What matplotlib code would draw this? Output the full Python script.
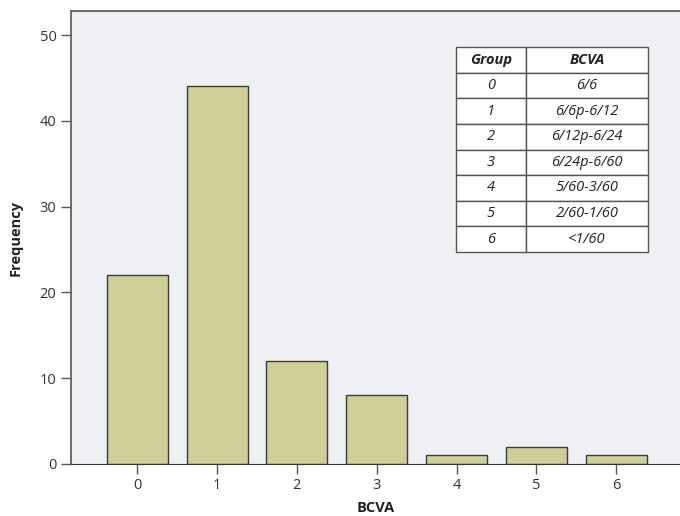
import matplotlib.pyplot as plt

groups = [0, 1, 2, 3, 4, 5, 6]
freq = [22, 44, 12, 8, 1, 2, 1]
bcva_labels = ['6/6', '6/6p-6/12', '6/12p-6/24', '6/24p-6/60',
               '5/60-3/60', '2/60-1/60', '<1/60']

plt.rcParams['font.family'] = ['Open Sans', 'DejaVu Sans']

fig = plt.figure(figsize=(6.8, 5.16), dpi=100)
ax = fig.add_axes([0.1044, 0.1008, 0.8956, 0.8779])
ax.set_facecolor('#eff0f3')

ax.bar(groups, freq, width=0.765, color='#d0cf98', edgecolor='#3a3a3a', linewidth=1.0)

ax.set_xlim(-0.83, 6.8)
ax.set_ylim(0, 52.8)
ax.set_xticks(groups)
ax.set_yticks([0, 10, 20, 30, 40, 50])
ax.tick_params(axis='both', direction='out', length=7, width=1, color='#555555',
               labelsize=10.5, labelcolor='#333333')
ax.tick_params(axis='x', pad=3)

for s in ['left', 'top']:
    ax.spines[s].set_color('#555555')
    ax.spines[s].set_linewidth(1.2)
ax.spines['right'].set_visible(False)
ax.spines['bottom'].set_color('#333333')

ax.set_xlabel('BCVA', fontsize=10.5, fontweight='bold', color='#222222', labelpad=6)
ax.set_ylabel('Frequency', fontsize=10.5, fontweight='bold', color='#222222', labelpad=12)

# legend table
cells = [[str(g), lab] for g, lab in zip(groups, bcva_labels)]
tab = ax.table(cellText=cells, colLabels=['Group', 'BCVA'],
               cellLoc='center', colWidths=[70, 122.6],
               bbox=[0.6317, 0.468, 0.3163, 0.452])
tab.auto_set_font_size(False)
for (r, c), cell in tab.get_celld().items():
    cell.set_facecolor('white')
    cell.set_edgecolor('#555555')
    cell.set_linewidth(1.0)
    txt = cell.get_text()
    txt.set_fontsize(10.5)
    txt.set_color('#222222')
    txt.set_fontstyle('italic')
    if r == 0:
        txt.set_fontweight('bold')

fig.savefig('out.png', dpi=100)
